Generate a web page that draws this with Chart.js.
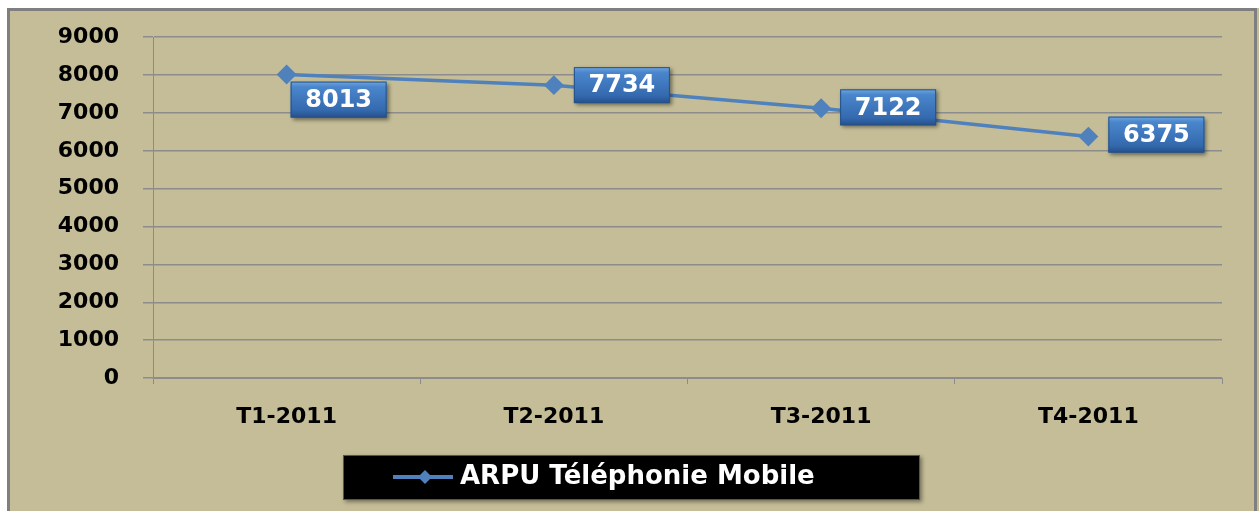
<!DOCTYPE html>
<html>
<head>
<meta charset="utf-8">
<script src="https://cdn.jsdelivr.net/npm/chart.js@4"></script>
<style>
  html, body { margin: 0; padding: 0; background: #fff; }
  #wrap { width: 1259px; height: 511px; }
</style>
</head>
<body>
<div id="wrap"><canvas id="arpuChart" width="1259" height="511"></canvas></div>
<script>
  const quarters = ['T1-2011', 'T2-2011', 'T3-2011', 'T4-2011'];
  const arpu = [8013, 7734, 7122, 6375];
  const seriesName = 'ARPU Téléphonie Mobile';

  const FONT = "'DejaVu Sans', Verdana, sans-serif";
  const BG = '#C4BD97';
  const LINE = '#4F81BD';
  const GRID = '#8C8C8C';

  // frame + background of the whole chart
  const frame = {
    id: 'frame',
    beforeDraw(chart) {
      const c = chart.ctx;
      c.save();
      c.fillStyle = '#fff';
      c.fillRect(0, 0, chart.width, chart.height);
      c.fillStyle = BG;
      c.fillRect(7, 8, chart.width - 7, chart.height - 8);
      c.strokeStyle = '#7f7f7f';
      c.lineWidth = 3;
      c.beginPath();
      c.moveTo(8.5, chart.height);
      c.lineTo(8.5, 9.5);
      c.lineTo(chart.width - 3.5, 9.5);
      c.lineTo(chart.width - 3.5, chart.height);
      c.stroke();
      c.restore();
    }
  };

  // value boxes next to the points
  const valueBoxes = {
    id: 'valueBoxes',
    afterDatasetsDraw(chart) {
      const c = chart.ctx;
      const meta = chart.getDatasetMeta(0);
      const dx = [52, 68, 67, 68];
      const dy = [25, 0, -1, -2];
      const w = 96, h = 36;
      c.save();
      meta.data.forEach((pt, i) => {
        const cx = pt.x + dx[i], cy = pt.y + dy[i];
        const x = cx - w / 2, y = cy - h / 2;
        c.shadowColor = 'rgba(0,0,0,0.45)';
        c.shadowBlur = 4;
        c.shadowOffsetX = 2;
        c.shadowOffsetY = 2;
        const g = c.createLinearGradient(0, y, 0, y + h);
        g.addColorStop(0, '#6FA6E0');
        g.addColorStop(0.15, '#4A86CC');
        g.addColorStop(0.8, '#3469AE');
        g.addColorStop(1, '#254F8A');
        c.fillStyle = g;
        c.fillRect(x, y, w, h);
        c.shadowColor = 'transparent';
        c.strokeStyle = '#24528A';
        c.lineWidth = 1;
        c.strokeRect(x + 0.5, y + 0.5, w - 1, h - 1);
        c.fillStyle = '#fff';
        c.font = 'bold 24px ' + FONT;
        c.textAlign = 'center';
        c.textBaseline = 'middle';
        c.fillText(String(chart.data.datasets[0].data[i]), cx, cy + 1);
      });
      c.restore();
    }
  };

  // black legend box at the bottom
  const legendBox = {
    id: 'legendBox',
    afterDraw(chart) {
      const c = chart.ctx;
      const x = 343, y = 455, w = 577, h = 45;
      c.save();
      c.shadowColor = 'rgba(0,0,0,0.4)';
      c.shadowBlur = 4;
      c.shadowOffsetX = 2;
      c.shadowOffsetY = 2;
      c.fillStyle = '#000';
      c.fillRect(x, y, w, h);
      c.shadowColor = 'transparent';
      c.strokeStyle = '#555';
      c.lineWidth = 1;
      c.strokeRect(x + 0.5, y + 0.5, w - 1, h - 1);
      const ly = y + 22;
      c.strokeStyle = LINE;
      c.lineWidth = 4;
      c.beginPath();
      c.moveTo(393, ly);
      c.lineTo(453, ly);
      c.stroke();
      c.fillStyle = LINE;
      c.beginPath();
      c.moveTo(425, ly - 7);
      c.lineTo(432, ly);
      c.lineTo(425, ly + 7);
      c.lineTo(418, ly);
      c.closePath();
      c.fill();
      c.fillStyle = '#fff';
      c.font = 'bold 26px ' + FONT;
      c.textAlign = 'left';
      c.textBaseline = 'middle';
      c.fillText(chart.data.datasets[0].label, 460, ly);
      c.restore();
    }
  };

  const ctx = document.getElementById('arpuChart');

  new Chart(ctx, {
    type: 'line',
    data: {
      labels: quarters,
      datasets: [{
        label: seriesName,
        data: arpu,
        borderColor: LINE,
        backgroundColor: LINE,
        borderWidth: 3.5,
        pointStyle: 'rectRot',
        pointRadius: 7.5,
        pointHoverRadius: 7.5,
        tension: 0
      }]
    },
    options: {
      responsive: false,
      animation: false,
      events: [],
      layout: { padding: { left: 0, right: 37, top: 35, bottom: 0 } },
      plugins: {
        legend: { display: false },
        tooltip: { enabled: false }
      },
      scales: {
        x: {
          offset: true,
          grid: { display: true, drawOnChartArea: false, color: GRID, tickLength: 6, offset: true },
          border: { color: GRID, width: 1 },
          ticks: { color: '#000', padding: 20, font: { family: FONT, size: 22, weight: 'bold' } },
          afterFit(scale) { scale.height = 133; }
        },
        y: {
          min: 0,
          max: 9000,
          grid: { color: GRID, lineWidth: 1.5, tickLength: 10 },
          border: { color: GRID, width: 1 },
          ticks: {
            stepSize: 1000,
            color: '#000',
            padding: 24,
            font: { family: FONT, size: 22, weight: 'bold' },
            callback: (v) => String(v)
          },
          afterFit(scale) { scale.width = 153; }
        }
      }
    },
    plugins: [frame, valueBoxes, legendBox]
  });
</script>
</body>
</html>
